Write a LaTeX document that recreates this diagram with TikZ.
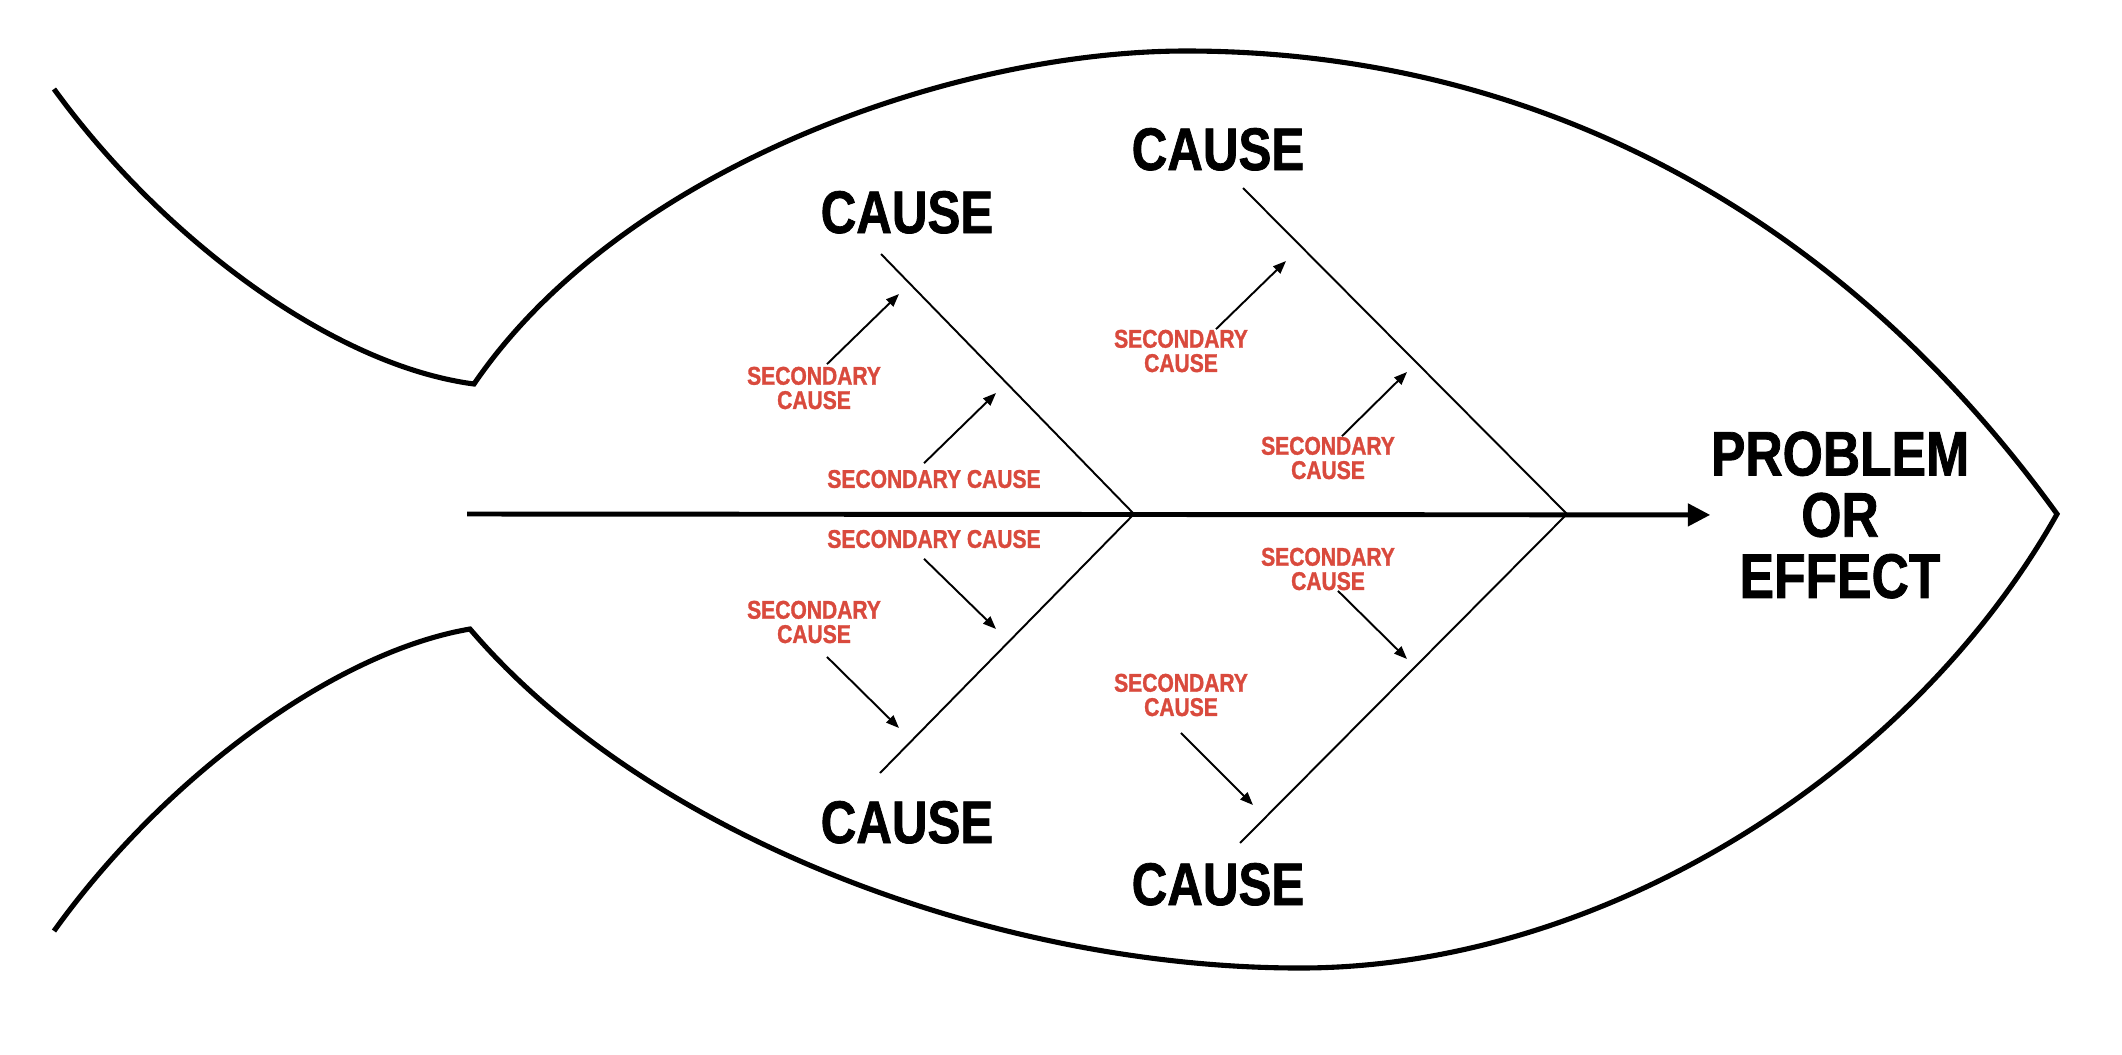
\documentclass[tikz,border=0pt]{standalone}
\usepackage{fontspec}
\setmainfont{Liberation Sans}[FakeStretch=0.82, BoldFeatures={FakeBold=1.2}]
\usepackage{xcolor}
\usepackage{tikz}
\usetikzlibrary{positioning,arrows.meta,calc}
\definecolor{secred}{RGB}{217,74,61}

\begin{document}
\begin{tikzpicture}[
  x=0.01cm, y=-0.01cm,
  body/.style={line width=1.45pt, line join=miter},
  spine/.style={line width=1.4pt, -{Triangle[length=2.25mm,width=2.2mm]}},
  bone/.style={line width=0.55pt},
  sarr/.style={line width=0.55pt, -{Triangle[length=1.3mm,width=1mm]}},
  cause/.style={font=\fontsize{17.1}{18}\selectfont\bfseries, inner sep=0pt, anchor=base},
  effect/.style={font=\fontsize{17.9}{17.4}\selectfont\bfseries, align=center, inner sep=0pt},
  sec/.style={font=\fontsize{7.3}{6.9}\selectfont\bfseries, text=secred, align=center, inner sep=0pt}
]
\useasboundingbox (0,0) rectangle (2122,1054);

\draw[body] (54,89) .. controls (160,235) and (330,365) .. (474,384)
  .. controls (620,170) and (950,51) .. (1186,51)
  .. controls (1520,51) and (1830,200) .. (2057,514)
  .. controls (1910,775) and (1600,968) .. (1300,968)
  .. controls (1000,968) and (650,840) .. (470,629)
  .. controls (330,653) and (160,783) .. (54,931);

\node[effect] (effect) at (1840,515) {PROBLEM\\OR\\EFFECT};
\coordinate (tail) at (467,514);
\coordinate (j1) at (1134,514);
\coordinate (j2) at (1567,514);
\draw[spine] (tail) -- (effect);

\node[cause] (c1) at (907,233) {CAUSE};
\node[cause] (c2) at (1218,170) {CAUSE};
\node[cause] (c3) at (907,843) {CAUSE};
\node[cause] (c4) at (1218,905) {CAUSE};
\coordinate (b1) at (881,254);
\coordinate (b2) at (880,773);
\coordinate (b3) at (1243,188);
\coordinate (b4) at (1240,843);
\draw[bone] (b1) -- (j1) -- (b2);
\draw[bone] (b3) -- (j2) -- (b4);

\node[sec] (s1) at (814,388) {SECONDARY\\CAUSE};
\node[sec] (s2) at (934,479) {SECONDARY CAUSE};
\node[sec] (s3) at (1181,351) {SECONDARY\\CAUSE};
\node[sec] (s4) at (1328,458) {SECONDARY\\CAUSE};
\node[sec] (s5) at (934,539) {SECONDARY CAUSE};
\node[sec] (s6) at (814,622) {SECONDARY\\CAUSE};
\node[sec] (s7) at (1328,569) {SECONDARY\\CAUSE};
\node[sec] (s8) at (1181,695) {SECONDARY\\CAUSE};
\coordinate (h1) at (899,294);
\coordinate (h2) at (996,393);
\coordinate (h3) at (1286,261);
\coordinate (h4) at (1407,372);
\coordinate (h5) at (996,629);
\coordinate (h6) at (899,728);
\coordinate (h7) at (1407,659);
\coordinate (h8) at (1253,805);
\draw[sarr] ([shift={(13,-2)}]s1.north) -- (h1);
\draw[sarr] ([shift={(-10,-6)}]s2.north) -- (h2);
\draw[sarr] ([shift={(35,0)}]s3.north) -- (h3);
\draw[sarr] ([shift={(14,0)}]s4.north) -- (h4);
\draw[sarr] ([shift={(-10,10)}]s5.south) -- (h5);
\draw[sarr] ([shift={(13,13)}]s6.south) -- (h6);
\draw[sarr] ([shift={(10,0)}]s7.south) -- (h7);
\draw[sarr] ([shift={(0,16)}]s8.south) -- (h8);
\end{tikzpicture}
\end{document}
